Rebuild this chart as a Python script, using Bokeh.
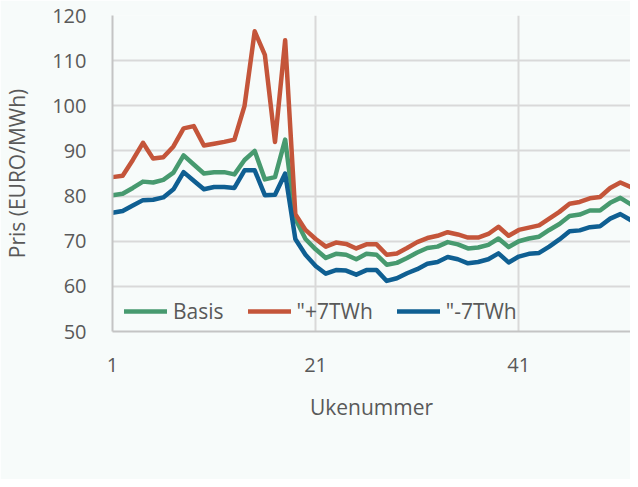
from bokeh.plotting import figure
from bokeh.models import ColumnDataSource, Legend, LegendItem, FixedTicker, Range1d
from bokeh.embed import file_html
from bokeh.resources import INLINE

weeks = list(range(1, 53))
basis = [80.2, 80.5, 81.8, 83.2, 83.0, 83.6, 85.2, 89.0, 87.0, 85.0,
         85.3, 85.3, 84.8, 88.0, 90.0, 83.7, 84.2, 92.5, 75.0, 70.5,
         68.2, 66.3, 67.2, 67.0, 66.0, 67.2, 67.0, 64.8, 65.2, 66.3,
         67.5, 68.5, 68.8, 69.8, 69.3, 68.4, 68.6, 69.2, 70.6, 68.7,
         70.0, 70.6, 71.0, 72.5, 73.8, 75.6, 75.9, 76.8, 76.8, 78.5,
         79.6, 78.2]
plus7 = [84.2, 84.5, 88.0, 91.8, 88.3, 88.6, 91.0, 95.0, 95.5, 91.2,
         91.6, 92.0, 92.5, 100.0, 116.5, 111.3, 92.0, 114.5, 76.0, 72.5,
         70.5, 68.8, 69.7, 69.4, 68.4, 69.3, 69.3, 67.0, 67.3, 68.5,
         69.8, 70.7, 71.2, 72.0, 71.5, 70.8, 70.8, 71.6, 73.2, 71.2,
         72.5, 73.0, 73.5, 75.0, 76.5, 78.3, 78.7, 79.5, 79.8, 81.8,
         83.0, 82.0]
minus7 = [76.3, 76.7, 77.9, 79.1, 79.2, 79.7, 81.5, 85.3, 83.4, 81.5,
          82.0, 82.0, 81.8, 85.7, 85.7, 80.2, 80.3, 85.0, 70.5, 67.0,
          64.5, 62.8, 63.6, 63.5, 62.6, 63.6, 63.6, 61.2, 61.8, 62.9,
          63.8, 65.0, 65.4, 66.5, 66.0, 65.1, 65.4, 66.0, 67.3, 65.3,
          66.6, 67.2, 67.4, 68.8, 70.4, 72.2, 72.4, 73.1, 73.3, 75.0,
          76.0, 74.7]
series_names = ["Basis", "\"+7TWh", "\"-7TWh"]
x_ticks = [1, 21, 41]
y_ticks = [50, 60, 70, 80, 90, 100, 110, 120]

colors = ["#479a6f", "#c4553a", "#0f5f92"]
FONT = "Open Sans"
TXT = "#595959"
BG = "#f7fbfa"

src = ColumnDataSource(dict(x=weeks, basis=basis, plus7=plus7, minus7=minus7))

p = figure(width=630, height=479, output_backend="svg", toolbar_location=None,
           x_range=Range1d(1, 52), y_range=Range1d(50, 120),
           min_border_left=107, min_border_right=0, min_border_top=15,
           min_border_bottom=148)
p.background_fill_color = BG
p.border_fill_color = BG
p.outline_line_color = None

renderers = []
for col, c in zip(["basis", "plus7", "minus7"], colors):
    r = p.line("x", col, source=src, line_color=c, line_width=4.5,
               line_join="round", line_cap="round")
    renderers.append(r)

for ax in (p.xaxis[0], p.yaxis[0]):
    ax.axis_line_color = "#c4c4c4"
    ax.axis_line_width = 2
    ax.major_tick_line_color = None
    ax.minor_tick_line_color = None
    ax.major_label_text_font = FONT
    ax.major_label_text_font_size = "20px"
    ax.major_label_text_color = TXT
    ax.axis_label_text_font = FONT
    ax.axis_label_text_font_size = "21px"
    ax.axis_label_text_font_style = "normal"
    ax.axis_label_text_color = TXT

p.xaxis.ticker = FixedTicker(ticks=x_ticks)
p.yaxis.ticker = FixedTicker(ticks=y_ticks)
p.xaxis.axis_label = "Ukenummer"
p.yaxis.axis_label = "Pris (EURO/MWh)"
p.xaxis.major_label_standoff = 20
p.yaxis.major_label_standoff = 20
p.xaxis.axis_label_standoff = 18
p.yaxis.axis_label_standoff = 18

p.xgrid.grid_line_color = "#d9d9d9"
p.ygrid.grid_line_color = "#d9d9d9"
p.xgrid.grid_line_width = 2
p.ygrid.grid_line_width = 2

items = [LegendItem(label=n, renderers=[r]) for n, r in zip(series_names, renderers)]
legend = Legend(items=items, orientation="horizontal", location=(12, 6),
                background_fill_alpha=0, border_line_color=None,
                label_text_font=FONT, label_text_font_size="21px",
                label_text_color=TXT, glyph_width=43, label_standoff=6,
                spacing=24, padding=0, margin=0)
p.add_layout(legend, "center")

open("out.html", "w").write(file_html(p, INLINE))
